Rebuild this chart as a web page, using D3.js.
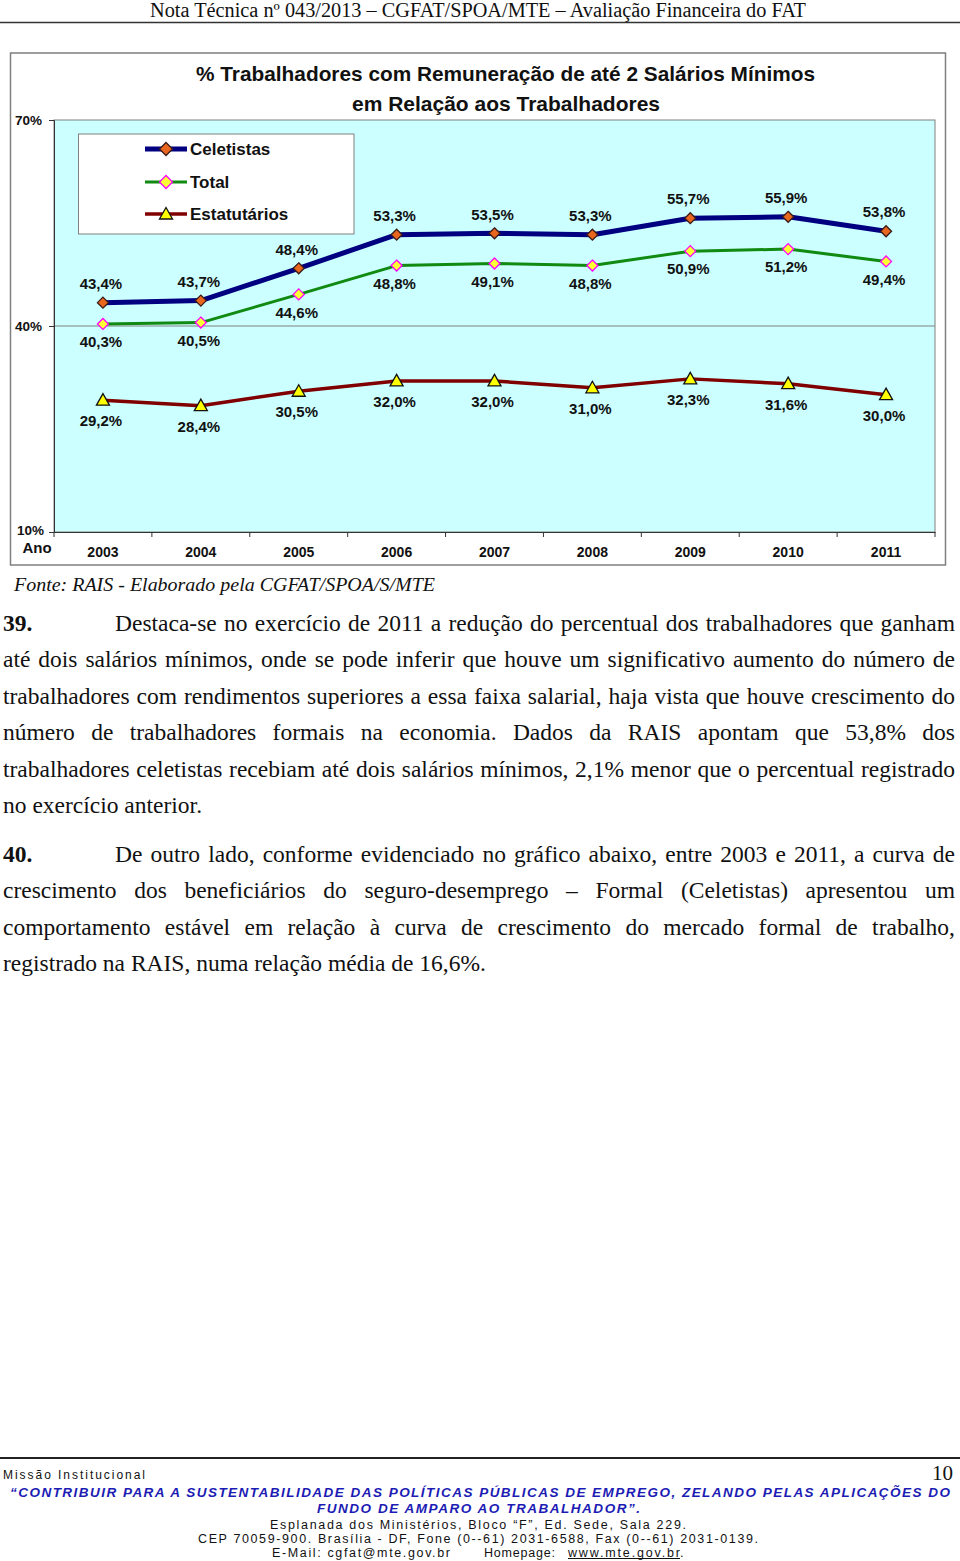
<!DOCTYPE html>
<html><head><meta charset="utf-8">
<script src="https://cdn.jsdelivr.net/npm/d3@7"></script>
<style>
html,body{margin:0;padding:0;background:#fff;}
body{width:960px;height:1561px;position:relative;overflow:hidden;}
svg{position:absolute;left:0;top:0;}
.body{position:absolute;left:3px;width:952px;font-family:"Liberation Serif","Times New Roman",serif;font-size:23.5px;color:#111;}
.ln{height:36.4px;line-height:36.4px;text-align:justify;text-align-last:justify;white-space:nowrap;}
.ln.last{text-align-last:left;}
.num{display:inline-block;width:112px;font-weight:bold;}
</style></head>
<body>
<svg id="page" width="960" height="1561"></svg>
<div class="body" id="p39" style="top:605px">
  <div class="ln"><span class="num">39.</span>Destaca-se no exercício de 2011 a redução do percentual dos trabalhadores que ganham</div>
  <div class="ln">até dois salários mínimos, onde se pode inferir que houve um significativo aumento do número de</div>
  <div class="ln">trabalhadores com rendimentos superiores a essa faixa salarial, haja vista que houve crescimento do</div>
  <div class="ln">número de trabalhadores formais na economia. Dados da RAIS apontam que 53,8% dos</div>
  <div class="ln">trabalhadores celetistas recebiam até dois salários mínimos, 2,1% menor que o percentual registrado</div>
  <div class="ln last">no exercício anterior.</div>
</div>
<div class="body" id="p40" style="top:836px">
  <div class="ln"><span class="num">40.</span>De outro lado, conforme evidenciado no gráfico abaixo, entre 2003 e 2011, a curva de</div>
  <div class="ln">crescimento dos beneficiários do seguro-desemprego – Formal (Celetistas) apresentou um</div>
  <div class="ln">comportamento estável em relação à curva de crescimento do mercado formal de trabalho,</div>
  <div class="ln last">registrado na RAIS, numa relação média de 16,6%.</div>
</div>
<script>
// ---- data ----
const years = ["2003","2004","2005","2006","2007","2008","2009","2010","2011"];
const celetistas   = [43.4, 43.7, 48.4, 53.3, 53.5, 53.3, 55.7, 55.9, 53.8];
const total        = [40.3, 40.5, 44.6, 48.8, 49.1, 48.8, 50.9, 51.2, 49.4];
const estatutarios = [29.2, 28.4, 30.5, 32.0, 32.0, 31.0, 32.3, 31.6, 30.0];
const seriesNames  = ["Celetistas","Total","Estatutários"];
const yTicks = [10, 40, 70];
const titleLines = ["% Trabalhadores com Remuneração de até 2 Salários Mínimos","em Relação aos Trabalhadores"];

const svg = d3.select("#page");
const fmt = v => d3.format(".1f")(v).replace(".", ",") + "%";

// ---- page header ----
svg.append("text").attr("x",478).attr("y",17).attr("text-anchor","middle")
  .attr("font-family","Liberation Serif, serif").attr("font-size",20).attr("fill","#111")
  .attr("textLength",656).attr("lengthAdjust","spacingAndGlyphs")
  .text("Nota Técnica nº 043/2013 – CGFAT/SPOA/MTE – Avaliação Financeira do FAT");
svg.append("line").attr("x1",0).attr("x2",960).attr("y1",22.5).attr("y2",22.5).attr("stroke","#333").attr("stroke-width",1.5);

// ---- chart ----
svg.append("rect").attr("x",10.5).attr("y",53).attr("width",935).attr("height",512)
  .attr("fill","#fff").attr("stroke","#7f7f7f").attr("stroke-width",1.5);

const x = d3.scaleBand().domain(years).range([54,935]);
const y = d3.scaleLinear().domain([10,70]).range([532,120]);

svg.append("rect").attr("x",54).attr("y",y(70)).attr("width",935-54).attr("height",y(10)-y(70))
  .attr("fill","#ccffff").attr("stroke","#808080").attr("stroke-width",1);
svg.append("line").attr("x1",54).attr("x2",935).attr("y1",y(40)).attr("y2",y(40)).attr("stroke","#808080").attr("stroke-width",1);

// title
const tg = svg.append("g").attr("font-family","Liberation Sans, Arial, sans-serif").attr("font-weight","bold").attr("font-size",20.5).attr("fill","#111");
tg.append("text").attr("x",505.5).attr("y",81).attr("text-anchor","middle").attr("textLength",619).attr("lengthAdjust","spacingAndGlyphs").text(titleLines[0]);
tg.append("text").attr("x",506).attr("y",111).attr("text-anchor","middle").attr("textLength",308).attr("lengthAdjust","spacingAndGlyphs").text(titleLines[1]);

// y axis
const yAxis = d3.axisLeft(y).tickValues(yTicks).tickSize(5).tickPadding(7).tickFormat(d => d + "%");
const yg = svg.append("g").attr("transform","translate(54,0)").call(yAxis);
yg.select(".domain").attr("stroke","#333");
yg.selectAll(".tick line").attr("stroke","#333");
yg.selectAll(".tick text").attr("font-family","Liberation Sans, Arial, sans-serif").attr("font-weight","bold").attr("font-size",13.5).attr("fill","#111");
yg.selectAll(".tick").filter(d => d === 10).select("text").attr("x",-10).attr("dy","0.2em");

svg.append("text").attr("x",37).attr("y",553).attr("text-anchor","middle")
  .attr("font-family","Liberation Sans, Arial, sans-serif").attr("font-weight","bold").attr("font-size",15).attr("fill","#111").text("Ano");

// x axis
const xAxis = d3.axisBottom(x).tickSize(0).tickPadding(15);
const xg = svg.append("g").attr("transform",`translate(0,${y(10)})`).call(xAxis);
xg.select(".domain").attr("stroke","#333");
xg.selectAll(".tick text").attr("font-family","Liberation Sans, Arial, sans-serif").attr("font-weight","bold").attr("font-size",14).attr("fill","#111");
// boundary ticks
const bounds = years.map(d => x(d)).concat([x(years[years.length-1]) + x.bandwidth()]);
svg.append("g").selectAll("line").data(bounds).join("line")
  .attr("x1",d=>d).attr("x2",d=>d).attr("y1",y(10)).attr("y2",y(10)+5).attr("stroke","#333");

// series
const series = [
  {name: seriesNames[0], values: celetistas, line: "#000080", width: 5, marker: "diamond", fill: "#e8661e", stroke: "#3a1a1a", labelDy: -19},
  {name: seriesNames[1], values: total, line: "#108a10", width: 3, marker: "diamond", fill: "#ffff33", stroke: "#ff00ff", labelDy: 18},
  {name: seriesNames[2], values: estatutarios, line: "#800000", width: 3.5, marker: "triangle", fill: "#ffff00", stroke: "#111", labelDy: 21}
];
const cx = d => x(d) + x.bandwidth()/2;
const diamond = "M0,-5.5L5.5,0L0,5.5L-5.5,0Z";
const triangle = "M0,-6.5L6.5,5L-6.5,5Z";
const legDiamond = "M0,-6.5L6.5,0L0,6.5L-6.5,0Z";

// draw order: Estatutários, Total, Celetistas
[2,1,0].forEach(i => {
  const s = series[i];
  const pts = years.map((yr,j) => [cx(yr), y(s.values[j])]);
  svg.append("path").attr("d", d3.line()(pts)).attr("fill","none").attr("stroke",s.line).attr("stroke-width",s.width).attr("stroke-linejoin","round");
  svg.append("g").selectAll("path").data(pts).join("path")
    .attr("transform", d => `translate(${d[0]},${d[1]})`)
    .attr("d", s.marker === "diamond" ? diamond : triangle)
    .attr("fill", s.fill).attr("stroke", s.stroke).attr("stroke-width",1.3);
  svg.append("g").selectAll("text").data(pts).join("text")
    .attr("x", d => d[0] - 2).attr("y", d => d[1] + s.labelDy).attr("dy","0.35em")
    .attr("text-anchor","middle").attr("font-family","Liberation Sans, Arial, sans-serif")
    .attr("font-weight","bold").attr("font-size",15).attr("fill","#111")
    .text((d,j) => fmt(s.values[j]));
});

// legend
const lg = svg.append("g");
lg.append("rect").attr("x",78.5).attr("y",134).attr("width",275.5).attr("height",100).attr("fill","#fff").attr("stroke","#808080");
const legY = [149, 182, 214];
series.forEach((s,i) => {
  const g = lg.append("g").attr("transform",`translate(0,${legY[i]})`);
  g.append("line").attr("x1",145).attr("x2",187).attr("y1",0).attr("y2",0).attr("stroke",s.line).attr("stroke-width",s.width);
  g.append("path").attr("transform","translate(166,0)").attr("d", s.marker === "diamond" ? legDiamond : triangle)
    .attr("fill",s.fill).attr("stroke",s.stroke).attr("stroke-width",1.3);
  g.append("text").attr("x",190).attr("y",0).attr("dy","0.35em").attr("font-family","Liberation Sans, Arial, sans-serif")
    .attr("font-weight","bold").attr("font-size",17).attr("fill","#111").text(s.name);
});

// source
svg.append("text").attr("x",14).attr("y",591).attr("font-family","Liberation Serif, serif").attr("font-style","italic")
  .attr("font-size",19).attr("fill","#111").attr("textLength",421).attr("lengthAdjust","spacingAndGlyphs")
  .text("Fonte: RAIS - Elaborado pela CGFAT/SPOA/S/MTE");

// ---- footer ----
svg.append("line").attr("x1",0).attr("x2",960).attr("y1",1458).attr("y2",1458).attr("stroke","#222").attr("stroke-width",2);
const sans = "Liberation Sans, Arial, sans-serif";
svg.append("text").attr("x",3).attr("y",1479).attr("font-family",sans).attr("font-size",12).attr("fill","#111")
  .attr("textLength",142).attr("lengthAdjust","spacing").text("Missão Institucional");
svg.append("text").attr("x",953).attr("y",1480).attr("text-anchor","end").attr("font-family","Liberation Serif, serif").attr("font-size",21).attr("fill","#111").text("10");
svg.append("text").attr("x",10).attr("y",1497).attr("font-family",sans).attr("font-size",13.5).attr("font-weight","bold").attr("font-style","italic")
  .attr("fill","#1c1cb4").attr("textLength",940).attr("lengthAdjust","spacing")
  .text("“CONTRIBUIR PARA A SUSTENTABILIDADE DAS POLÍTICAS PÚBLICAS DE EMPREGO, ZELANDO PELAS APLICAÇÕES DO");
svg.append("text").attr("x",317).attr("y",1513).attr("font-family",sans).attr("font-size",13.5).attr("font-weight","bold").attr("font-style","italic")
  .attr("fill","#1c1cb4").attr("textLength",323).attr("lengthAdjust","spacing")
  .text("FUNDO DE AMPARO AO TRABALHADOR”.");
svg.append("text").attr("x",270).attr("y",1528.5).attr("font-family",sans).attr("font-size",12.5).attr("fill","#111")
  .attr("textLength",416).attr("lengthAdjust","spacing").text("Esplanada dos Ministérios, Bloco “F”, Ed. Sede, Sala 229.");
svg.append("text").attr("x",198).attr("y",1542.5).attr("font-family",sans).attr("font-size",12.5).attr("fill","#111")
  .attr("textLength",560).attr("lengthAdjust","spacing").text("CEP 70059-900. Brasília - DF, Fone (0--61) 2031-6588, Fax (0--61) 2031-0139.");
svg.append("text").attr("x",272).attr("y",1556.5).attr("font-family",sans).attr("font-size",12.5).attr("fill","#111")
  .attr("textLength",178).attr("lengthAdjust","spacing").text("E-Mail: cgfat@mte.gov.br");
svg.append("text").attr("x",484).attr("y",1556.5).attr("font-family",sans).attr("font-size",12.5).attr("fill","#111")
  .attr("textLength",71).attr("lengthAdjust","spacing").text("Homepage:");
svg.append("text").attr("x",568).attr("y",1556.5).attr("font-family",sans).attr("font-size",12.5).attr("fill","#111")
  .attr("textLength",112).attr("lengthAdjust","spacing").text("www.mte.gov.br");
svg.append("line").attr("x1",568).attr("x2",680).attr("y1",1558.5).attr("y2",1558.5).attr("stroke","#111").attr("stroke-width",1);
svg.append("text").attr("x",680).attr("y",1556.5).attr("font-family",sans).attr("font-size",12.5).attr("fill","#111").text(".");
</script>
</body></html>
